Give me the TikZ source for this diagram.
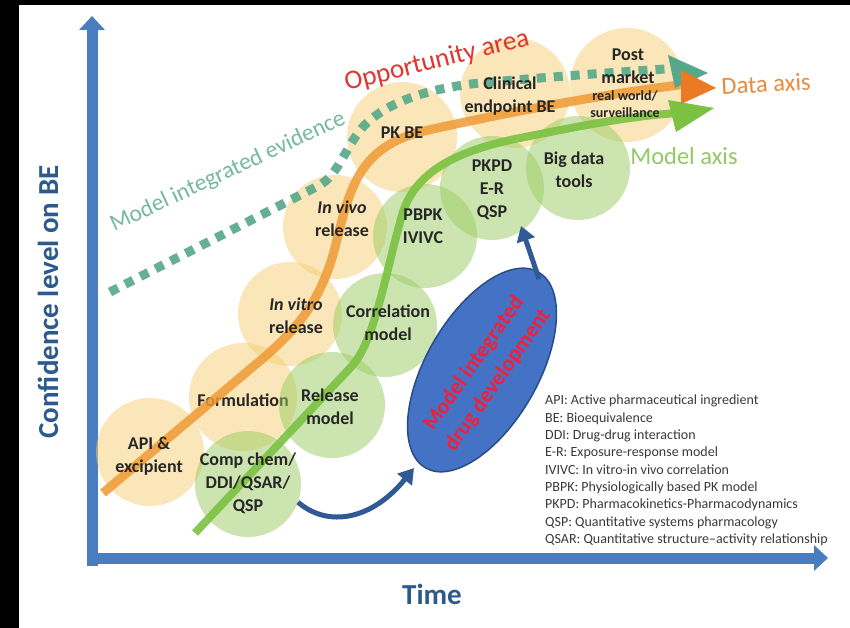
\documentclass[tikz,border=0pt]{standalone}
\usepackage{fontspec}
\setmainfont{Carlito}
\usetikzlibrary{arrows.meta,shapes.geometric}

\definecolor{axisblue}{HTML}{4A7DBF}
\definecolor{titleblue}{HTML}{2C5A8C}
\definecolor{ycirc}{HTML}{F6CF72}
\definecolor{gcirc}{HTML}{9ACD62}
\definecolor{dataorange}{HTML}{EE9A35}
\definecolor{headorange}{HTML}{EB7A22}
\definecolor{datatext}{HTML}{E98B3C}
\definecolor{modelgreen}{HTML}{7CC242}
\definecolor{modeltext}{HTML}{92C964}
\definecolor{evteal}{HTML}{55A88A}
\definecolor{evtext}{HTML}{74B9A0}
\definecolor{opred}{HTML}{E2352D}
\definecolor{ellblue}{HTML}{4472C4}
\definecolor{ellborder}{HTML}{2A4C86}
\definecolor{arrowblue}{HTML}{2F5A96}
\definecolor{midred}{HTML}{F0203A}
\definecolor{legendgray}{HTML}{3A3A3A}

\tikzset{
  axis/.style={axisblue, line width=11pt, -{Triangle[width=25pt,length=14pt]}},
  axislabel/.style={font=\bfseries\fontsize{29}{32}\selectfont, text=titleblue, inner sep=0},
  yellowdisc/.style={circle, fill=ycirc, fill opacity=0.5, inner sep=0, minimum size=#1},
  greendisc/.style={circle, fill=gcirc, fill opacity=0.5, inner sep=0, minimum size=#1},
  stagetext/.style={font=\bfseries\fontsize{18}{23}\selectfont, align=center, text=black!85, inner sep=0},
  smalltext/.style={font=\bfseries\fontsize{14}{17}\selectfont, align=center, text=black!85, inner sep=0},
  dataline/.style={dataorange, line width=9pt, opacity=0.85},
  modelline/.style={modelgreen, line width=8pt, opacity=0.9},
  evidenceline/.style={evteal, line width=9pt, opacity=0.9, dash pattern=on 9pt off 8pt},
  flowarrow/.style={arrowblue, line width=5pt, -{Triangle[width=18pt,length=15pt]}},
}

\begin{document}
\begin{tikzpicture}[x=1pt,y=-1pt]
\useasboundingbox (0,0) rectangle (850,628);
\fill[white] (0,0) rectangle (850,628);
\fill[black] (0,0) rectangle (19,628);
\fill[black] (0,0) rectangle (850,5);

% axes
\coordinate (ybase) at (92,566);
\coordinate (ytip) at (92,16);
\coordinate (xbase) at (87,558);
\coordinate (xtip) at (828,558);
\draw[axis] (ybase) -- (ytip);
\draw[axis] (xbase) -- (xtip);
\node[axislabel, rotate=90] (ylab) at (48,302) {Confidence level on BE};
\node[axislabel] (xlab) at (432,594) {Time};

% data-side stages
\node[yellowdisc=108pt] (api) at (150,452) {};
\node[yellowdisc=108pt] (form) at (243,397) {};
\node[yellowdisc=104pt] (vitro) at (290,314) {};
\node[yellowdisc=104pt] (vivo) at (335,227) {};
\node[yellowdisc=110pt] (pkbe) at (402,137) {};
\node[yellowdisc=110pt] (clin) at (515,93) {};
\node[yellowdisc=114pt] (post) at (627,85) {};
\node[stagetext] (formT) at (243,400) {Formulation};

% model-side stages
\node[greendisc=106pt] (comp) at (248,484) {};
\node[greendisc=106pt] (rel) at (332,405) {};
\node[greendisc=104pt] (corr) at (385,325) {};
\node[greendisc=104pt] (pbpk) at (425,236) {};
\node[greendisc=104pt] (pkpd) at (492,188) {};
\node[greendisc=104pt] (big) at (578,168) {};

% evidence, data and model axes
\coordinate (evStart) at (110,292);
\coordinate (evEnd) at (680,68);
\draw[evidenceline] (evStart) -- (318,186) .. controls (338,176) and (345,148) .. (362,128)
  .. controls (385,102) and (430,88) .. (480,83) .. controls (560,76) and (620,72) .. (evEnd);
\coordinate (dataStart) at (103,493);
\coordinate (dataEnd) at (688,84);
\draw[dataline] (dataStart) -- (255,365) .. controls (295,332) and (318,305) .. (333,255)
  .. controls (348,200) and (352,150) .. (420,132) .. controls (480,118) and (600,94) .. (dataEnd);
\coordinate (modelStart) at (195,533);
\coordinate (modelEnd) at (678,113);
\draw[modelline] (modelStart) -- (352,366) .. controls (375,340) and (385,275) .. (402,215)
  .. controls (415,170) and (460,150) .. (520,138) .. controls (580,126) and (630,116) .. (modelEnd);
\fill[evteal] (668,55) -- (708,73) -- (675,88) -- cycle;
\fill[modelgreen] (668,100) -- (714,108) -- (676,132) -- cycle;
\fill[headorange] (681,70) -- (716,88) -- (681,104) -- cycle;

% stage labels
\node[stagetext] (apiT) at (149,456) {API \&\\excipient};
\node[stagetext] (compT) at (248,483) {Comp chem/\\DDI/QSAR/\\QSP};
\node[stagetext] (relT) at (330,407) {Release\\model};
\node[stagetext] (vitroT) at (296,316) {\textit{In vitro}\\release};
\node[stagetext] (corrT) at (388,323) {Correlation\\model};
\node[stagetext] (vivoT) at (342,219) {\textit{In vivo}\\release};
\node[stagetext] (pbpkT) at (423,226) {PBPK\\IVIVC};
\node[stagetext] (pkbeT) at (402,133) {PK BE};
\node[stagetext] (pkpdT) at (492,190) {PKPD\\E-R\\QSP};
\node[stagetext] (bigT) at (574,170) {Big data\\tools};
\node[stagetext] (clinT) at (510,96) {Clinical\\endpoint BE};
\node[stagetext] (postT) at (628,66) {Post\\market};
\node[smalltext] (rwT) at (625,104) {real world/\\surveillance};

% headings along the axes
\node[font=\fontsize{24.5}{26}\selectfont, text=datatext, rotate=3] (dataT) at (766,84) {Data axis};
\node[font=\fontsize{24.5}{26}\selectfont, text=modeltext] (modelT) at (684,156) {Model axis};
\node[font=\fontsize{27}{29}\selectfont, text=opred, rotate=14] (oppT) at (437,61) {Opportunity area};
\node[font=\fontsize{23.5}{25}\selectfont, text=evtext, rotate=25] (evT) at (228,172) {Model integrated evidence};

% model integrated drug development
\node[ellipse, draw=ellborder, line width=1.5pt, fill=ellblue, minimum width=226pt,
      minimum height=112pt, rotate=60, inner sep=0] (mid) at (482,370) {};
\node[rotate=55, font=\bfseries\fontsize{22}{29}\selectfont, text=midred, align=center,
      inner sep=0] (midT) at (486,372) {Model integrated\\drug development};
\coordinate (midIn) at (414,468);
\coordinate (midTop) at (539,279);
\coordinate (pkpdIn) at (521,226);
\draw[flowarrow] (comp.-20) .. controls (328,528) and (372,520) .. (midIn);
\draw[flowarrow] (midTop) -- (pkpdIn);

% abbreviations
\node[anchor=north west, align=left, font=\fontsize{14}{17.3}\selectfont, text=legendgray,
      inner sep=0] (legend) at (545,395) {API: Active pharmaceutical ingredient\\
BE: Bioequivalence\\
DDI: Drug-drug interaction\\
E-R: Exposure-response model\\
IVIVC: In vitro-in vivo correlation\\
PBPK: Physiologically based PK model\\
PKPD: Pharmacokinetics-Pharmacodynamics\\
QSP: Quantitative systems pharmacology\\
QSAR: Quantitative structure\textendash activity relationship};
\end{tikzpicture}
\end{document}
